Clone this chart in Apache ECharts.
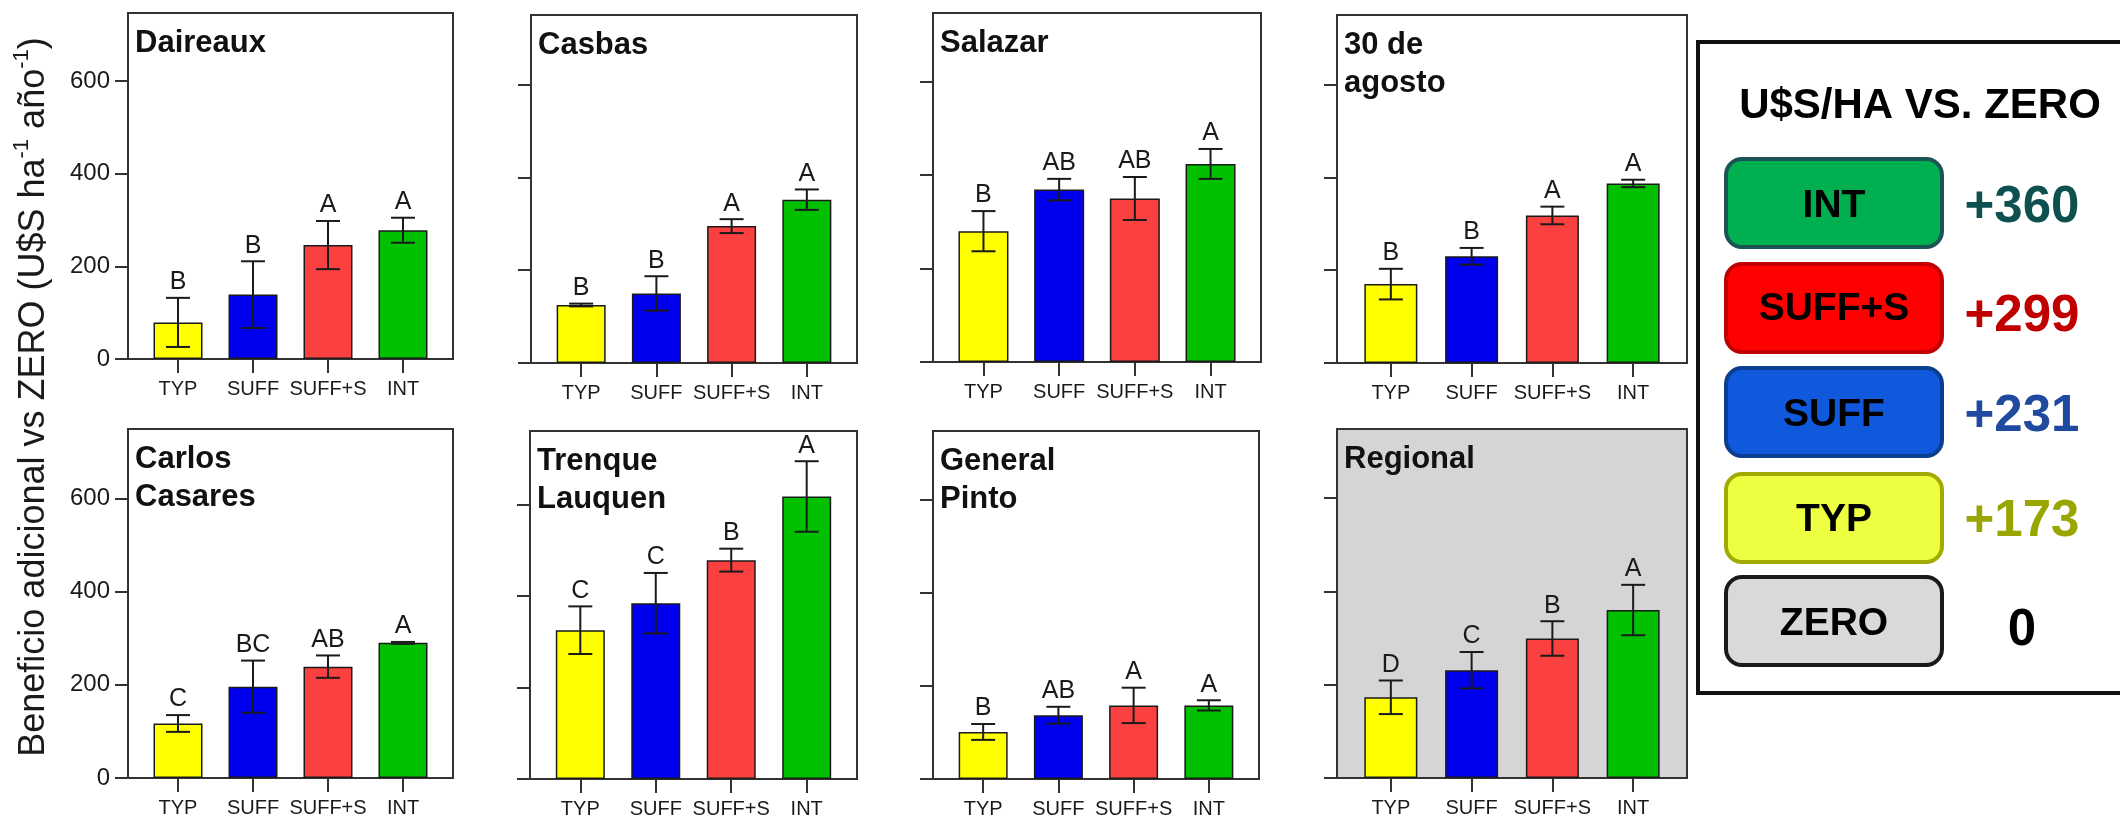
<!DOCTYPE html>
<html>
<head>
<meta charset="utf-8">
<script src="https://cdn.jsdelivr.net/npm/echarts@6/dist/echarts.min.js"></script>
<style>
  html, body { margin: 0; padding: 0; background: #fff; }
  #chart { width: 2120px; height: 819px; }
</style>
</head>
<body>
<div id="chart"></div>
<script>
// ---- data ----
const categories = ['TYP', 'SUFF', 'SUFF+S', 'INT'];
const siteNames = ['Daireaux', 'Casbas', 'Salazar', '30 de\nagosto',
                   'Carlos\nCasares', 'Trenque\nLauquen', 'General\nPinto', 'Regional'];
const yTicks = [0, 200, 400, 600];

const daireauxMean = [79, 139, 246, 278];
const daireauxErr = [53, 72, 52, 27];
const daireauxLetters = ['B', 'B', 'A', 'A'];

const casbasMean = [125, 150, 295, 352];
const casbasErr = [3, 37, 15, 22];
const casbasLetters = ['B', 'B', 'A', 'A'];

const salazarMean = [280, 369, 350, 424];
const salazarErr = [43, 23, 46, 32];
const salazarLetters = ['B', 'AB', 'AB', 'A'];

const agostoMean = [170, 230, 318, 387];
const agostoErr = [33, 18, 19, 8];
const agostoLetters = ['B', 'B', 'A', 'A'];

const casaresMean = [117, 196, 239, 290];
const casaresErr = [18, 56, 24, 2];
const casaresLetters = ['C', 'BC', 'AB', 'A'];

const trenqueMean = [325, 384, 478, 617];
const trenqueErr = [52, 66, 25, 77];
const trenqueLetters = ['C', 'C', 'B', 'A'];

const pintoMean = [101, 137, 158, 158];
const pintoErr = [17, 18, 38, 11];
const pintoLetters = ['B', 'AB', 'A', 'A'];

const regionalMean = [173, 231, 299, 360];
const regionalErr = [36, 39, 37, 54];
const regionalLetters = ['D', 'C', 'B', 'A'];

// summary box, top to bottom
const legendNames = ['INT', 'SUFF+S', 'SUFF', 'TYP', 'ZERO'];
const legendValues = [regionalMean[3], regionalMean[2], regionalMean[1], regionalMean[0], 0];

// ---- layout & style ----
const means = [daireauxMean, casbasMean, salazarMean, agostoMean, casaresMean, trenqueMean, pintoMean, regionalMean];
const errs = [daireauxErr, casbasErr, salazarErr, agostoErr, casaresErr, trenqueErr, pintoErr, regionalErr];
const letters = [daireauxLetters, casbasLetters, salazarLetters, agostoLetters, casaresLetters, trenqueLetters, pintoLetters, regionalLetters];

// panel frames: left, top, right, bottom, y max
const frames = [
  [128, 13, 453, 359, 747],
  [531, 15, 857, 363, 750],
  [933, 13, 1261, 362, 747],
  [1337, 15, 1687, 363, 750],
  [128, 429, 453, 778, 749],
  [530, 431, 857, 779, 760],
  [933, 431, 1259, 779, 747],
  [1337, 429, 1687, 778, 748]
];

const FONT = '"Liberation Sans", Arial, Helvetica, sans-serif';
const barColors = ['#ffff00', '#0000ee', '#fb4040', '#00c000'];
const lineColor = '#333';
const catTicks = [0, 1, 2, 3];

const grids = [], xAxes = [], yAxes = [], series = [], graphics = [];

frames.forEach((f, i) => {
  const [l, t, r, b, ymax] = f;
  const w = r - l;
  grids.push({
    left: l, top: t, width: w, height: b - t,
    show: true, borderColor: lineColor, borderWidth: 2,
    backgroundColor: i === 7 ? '#d5d5d5' : '#ffffff',
    containLabel: false, outerBoundsMode: 'none'
  });
  xAxes.push({
    gridIndex: i, type: 'value', min: -2 / 3, max: 11 / 3,
    splitLine: { show: false },
    axisLine: { show: true, onZero: false, lineStyle: { color: lineColor, width: 2 } },
    axisTick: { show: true, inside: false, length: 14, customValues: catTicks, lineStyle: { color: lineColor, width: 2 } },
    axisLabel: {
      show: true, customValues: catTicks, margin: 20,
      formatter: v => categories[Math.round(v)] || '',
      fontSize: 20, color: '#1a1a1a', fontFamily: FONT
    }
  });
  yAxes.push({
    gridIndex: i, type: 'value', min: 0, max: ymax,
    splitLine: { show: false },
    axisLine: { show: true, onZero: false, lineStyle: { color: lineColor, width: 2 } },
    axisTick: { show: true, inside: false, length: 13, customValues: yTicks, lineStyle: { color: lineColor, width: 2 } },
    axisLabel: {
      show: i % 4 === 0, customValues: yTicks, margin: 18,
      fontSize: 24, color: '#1a1a1a', fontFamily: FONT
    }
  });

  series.push({
    type: 'bar', xAxisIndex: i, yAxisIndex: i,
    barWidth: Math.round(w * 0.151),
    itemStyle: { borderColor: '#1a1a1a', borderWidth: 1.5 },
    data: means[i].map((v, j) => ({ value: [j, v], itemStyle: { color: barColors[j] } })),
    silent: true, animation: false, z: 2
  });

  const lt = letters[i];
  series.push({
    type: 'custom', xAxisIndex: i, yAxisIndex: i,
    data: means[i].map((v, j) => [j, v, errs[i][j]]),
    renderItem: (params, api) => {
      const x = api.value(0), m = api.value(1), e = api.value(2);
      const hi = api.coord([x, m + e]);
      const lo = api.coord([x, m - e]);
      const cap = 12;
      const st = { stroke: '#1a1a1a', lineWidth: 2 };
      return {
        type: 'group',
        children: [
          { type: 'line', shape: { x1: hi[0], y1: hi[1], x2: lo[0], y2: lo[1] }, style: st },
          { type: 'line', shape: { x1: hi[0] - cap, y1: hi[1], x2: hi[0] + cap, y2: hi[1] }, style: st },
          { type: 'line', shape: { x1: lo[0] - cap, y1: lo[1], x2: lo[0] + cap, y2: lo[1] }, style: st },
          {
            type: 'text', x: hi[0], y: hi[1] - 3,
            style: {
              text: lt[params.dataIndex], fill: '#1a1a1a',
              font: '25px ' + FONT, align: 'center', verticalAlign: 'bottom'
            }
          }
        ]
      };
    },
    silent: true, animation: false, z: 3
  });

  // panel name
  graphics.push({
    type: 'text', x: l + 7, y: t + 11, z: 10,
    style: {
      text: siteNames[i], fill: '#111',
      font: 'bold 31px ' + FONT, lineHeight: 38,
      align: 'left', verticalAlign: 'top'
    }
  });
});

// vertical axis title shared by both rows
graphics.push({
  type: 'text', x: 34, y: 397, rotation: Math.PI / 2, z: 10,
  style: {
    text: '{t|Beneficio adicional vs ZERO (U$S ha}{s|-1}{t| año}{s|-1}{t|)}',
    align: 'center', verticalAlign: 'middle',
    rich: {
      t: { fontSize: 36, fontFamily: FONT, fill: '#1a1a1a', lineHeight: 46 },
      s: { fontSize: 22, fontFamily: FONT, fill: '#1a1a1a', verticalAlign: 'top', lineHeight: 22 }
    }
  }
});

// summary box on the right
const boxFill = ['#00b050', '#ff0000', '#1058dc', '#eeff41', '#d9d9d9'];
const boxStroke = ['#1b5454', '#c00000', '#0b3d91', '#a0aa00', '#1a1a1a'];
const numColor = ['#0e5050', '#c00000', '#1f4aa0', '#99a600', '#000000'];
const boxTops = [159, 264, 368, 474, 577];
const labelY = [206, 309, 415, 520, 624];
const numY = [208, 317, 417, 522, 631];

graphics.push({
  type: 'rect', x: 1698, y: 42, z: 1,
  shape: { width: 440, height: 651 },
  style: { fill: '#fff', stroke: '#111', lineWidth: 4 }
});
graphics.push({
  type: 'text', x: 1920, y: 106, z: 5,
  style: { text: 'U$S/HA VS. ZERO', font: 'bold 42px ' + FONT, fill: '#000', align: 'center', verticalAlign: 'middle' }
});
legendNames.forEach((name, k) => {
  graphics.push({
    type: 'rect', x: 1726, y: boxTops[k], z: 5,
    shape: { width: 216, height: 88, r: 16 },
    style: { fill: boxFill[k], stroke: boxStroke[k], lineWidth: 4 }
  });
  graphics.push({
    type: 'text', x: 1834, y: labelY[k], z: 6,
    style: { text: name, font: 'bold 39px ' + FONT, fill: '#000', align: 'center', verticalAlign: 'middle' }
  });
  const v = legendValues[k];
  graphics.push({
    type: 'text', x: 2022, y: numY[k], z: 6,
    style: { text: v > 0 ? '+' + v : String(v), font: 'bold 51px ' + FONT, fill: numColor[k], align: 'center', verticalAlign: 'middle' }
  });
});

const chart = echarts.init(document.getElementById('chart'), null, { renderer: 'canvas' });
chart.setOption({
  animation: false,
  backgroundColor: '#fff',
  grid: grids,
  xAxis: xAxes,
  yAxis: yAxes,
  series: series,
  graphic: graphics
});
</script>
</body>
</html>
